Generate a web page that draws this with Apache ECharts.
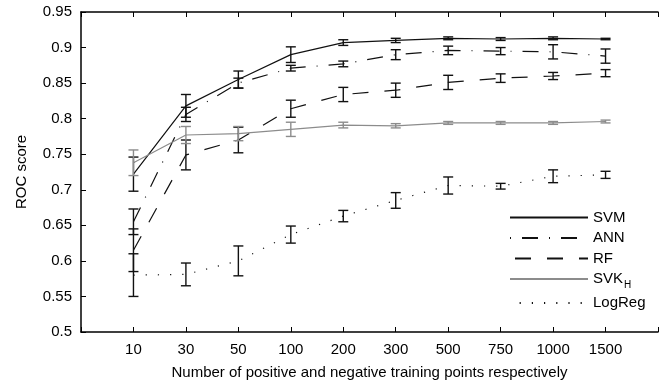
<!DOCTYPE html>
<html>
<head>
<meta charset="utf-8">
<script src="https://cdn.jsdelivr.net/npm/echarts@6/dist/echarts.min.js"></script>
<style>
  html, body { margin: 0; padding: 0; background: #fff; }
  #chart { width: 661px; height: 385px; }
</style>
</head>
<body>
<div id="chart"></div>
<script>
var xLabels = ['10', '30', '50', '100', '200', '300', '500', '750', '1000', '1500'];

var svm     = [0.722, 0.818, 0.855, 0.890, 0.907, 0.910, 0.913, 0.912, 0.913, 0.912];
var svmErr  = [0.024, 0.016, 0.012, 0.011, 0.004, 0.003, 0.002, 0.002, 0.002, 0.001];
var ann     = [0.655, 0.806, 0.850, 0.871, 0.877, 0.890, 0.896, 0.895, 0.894, 0.888];
var annErr  = [0.018, 0.010, 0.007, 0.004, 0.004, 0.007, 0.006, 0.005, 0.010, 0.010];
var rf      = [0.615, 0.749, 0.770, 0.814, 0.834, 0.840, 0.851, 0.857, 0.860, 0.864];
var rfErr   = [0.030, 0.021, 0.018, 0.012, 0.010, 0.010, 0.010, 0.006, 0.005, 0.005];
var svk     = [0.738, 0.777, 0.779, 0.785, 0.791, 0.790, 0.794, 0.794, 0.794, 0.796];
var svkErr  = [0.018, 0.012, 0.010, 0.010, 0.004, 0.003, 0.002, 0.002, 0.002, 0.002];
var logreg  = [0.580, 0.581, 0.600, 0.637, 0.663, 0.685, 0.706, 0.705, 0.719, 0.721];
var logErr  = [0.030, 0.016, 0.021, 0.012, 0.008, 0.011, 0.012, 0.004, 0.009, 0.005];

var yTicks = { min: 0.5, max: 0.95, step: 0.05 };

var chart = echarts.init(document.getElementById('chart'), null, { renderer: 'canvas' });

function points(vals) {
  return vals.map(function (v, i) { return [i + 1, v]; });
}
function bars(vals, errs) {
  return vals.map(function (v, i) { return [i + 1, v - errs[i], v + errs[i]]; });
}

function lineSeries(name, vals, color, type) {
  return {
    name: name,
    type: 'line',
    data: points(vals),
    symbol: 'none',
    lineStyle: { color: color, width: 1.2, type: type, cap: 'butt' },
    itemStyle: { color: color },
    z: 3
  };
}

// error bars: vertical whisker with short caps
function errSeries(name, vals, errs, color) {
  return {
    name: name + ' err',
    type: 'custom',
    data: bars(vals, errs),
    z: 4,
    renderItem: function (params, api) {
      var x = api.value(0);
      var lo = api.coord([x, api.value(1)]);
      var hi = api.coord([x, api.value(2)]);
      var w = 5;
      var st = { stroke: color, lineWidth: 1.4 };
      return {
        type: 'group',
        children: [
          { type: 'line', shape: { x1: lo[0], y1: lo[1], x2: hi[0], y2: hi[1] }, style: st },
          { type: 'line', shape: { x1: lo[0] - w, y1: lo[1], x2: lo[0] + w, y2: lo[1] }, style: st },
          { type: 'line', shape: { x1: hi[0] - w, y1: hi[1], x2: hi[0] + w, y2: hi[1] }, style: st }
        ]
      };
    }
  };
}

var black = '#111';
var gray = '#8c8c8c';
var font = 'Liberation Sans';

var option = {
  animation: false,
  backgroundColor: '#fff',
  grid: { left: 81, right: -9, top: 12, bottom: 53 },
  legend: {
    orient: 'vertical',
    left: 504,
    top: 205,
    itemWidth: 78,
    itemHeight: 14,
    itemGap: 5.5,
    itemStyle: { opacity: 0 },
    data: [
      'SVM',
      { name: 'ANN', lineStyle: { dashOffset: 27 } },
      'RF',
      'SVK_H',
      'LogReg'
    ],
    formatter: function (name) {
      if (name === 'SVK_H') return '{a|SVK}{sub|H}';
      return '{a|' + name + '}';
    },
    textStyle: {
      rich: {
        a: { fontSize: 15, lineHeight: 15, fontFamily: font, color: '#000' },
        sub: { fontSize: 10, fontFamily: font, color: '#000', padding: [12, 0, 0, 1] }
      }
    }
  },
  xAxis: [{
    type: 'value',
    min: 0,
    max: 11,
    interval: 1,
    position: 'bottom',
    name: 'Number of positive and negative training points respectively',
    nameLocation: 'middle',
    nameGap: 33,
    nameTextStyle: { fontSize: 15, fontFamily: font, color: '#000' },
    axisLine: { lineStyle: { color: '#000', width: 1.5 } },
    axisTick: { inside: true, length: 5, lineStyle: { color: '#000', width: 1 } },
    axisLabel: {
      fontSize: 15, fontFamily: font, color: '#000', margin: 10,
      formatter: function (v) { return xLabels[v - 1] || ''; }
    },
    splitLine: { show: false }
  }, {
    type: 'value',
    min: 0,
    max: 11,
    interval: 1,
    position: 'top',
    axisLine: { lineStyle: { color: '#000', width: 1.5 } },
    axisTick: { inside: true, length: 5, lineStyle: { color: '#000', width: 1 } },
    axisLabel: { show: false },
    splitLine: { show: false }
  }],
  yAxis: {
    type: 'value',
    min: yTicks.min,
    max: yTicks.max,
    interval: yTicks.step,
    name: 'ROC score',
    nameLocation: 'middle',
    nameRotate: 90,
    nameGap: 52,
    nameTextStyle: { fontSize: 15, fontFamily: font, color: '#000' },
    axisLine: { show: true, lineStyle: { color: '#000', width: 1.5 } },
    axisTick: { show: true, inside: true, length: 5, lineStyle: { color: '#000', width: 1 } },
    axisLabel: {
      fontSize: 15, fontFamily: font, color: '#000', margin: 9,
      formatter: function (v) { return String(+v.toFixed(2)); }
    },
    splitLine: { show: false }
  },
  series: [
    lineSeries('SVM', svm, black, 'solid'),
    lineSeries('ANN', ann, black, [16, 11, 1, 11]),
    lineSeries('RF', rf, black, [16, 16]),
    lineSeries('SVK_H', svk, gray, 'solid'),
    lineSeries('LogReg', logreg, black, [1.2, 11]),
    errSeries('SVM', svm, svmErr, black),
    errSeries('ANN', ann, annErr, black),
    errSeries('RF', rf, rfErr, black),
    errSeries('SVK_H', svk, svkErr, gray),
    errSeries('LogReg', logreg, logErr, black)
  ]
};

chart.setOption(option);
</script>
</body>
</html>
